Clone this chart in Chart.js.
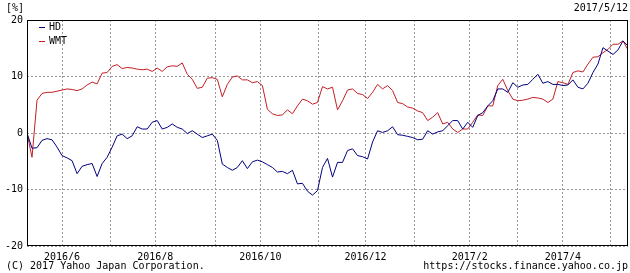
<!DOCTYPE html>
<html>
<head>
<meta charset="utf-8">
<script src="https://cdn.jsdelivr.net/npm/chart.js@4"></script>
<style>
  html, body { margin: 0; padding: 0; background: #fff; }
  #wrap { position: relative; width: 630px; height: 273px; font-family: "DejaVu Sans Mono", monospace; font-size: 10px; color: #000; }
  #wrap canvas { position: absolute; left: 0; top: 0; }
  .txt { position: absolute; white-space: pre; line-height: 10px; }
  .key { position: absolute; width: 6px; height: 1px; }
</style>
</head>
<body>
<div id="wrap">
  <canvas id="chartCompare" width="630" height="273"></canvas>
  <div class="txt" style="left:6px; top:3px;">[%]</div>
  <div class="txt" style="right:2px; top:3px;">2017/5/12</div>
  <div class="key" style="left:39px; top:27px; background:#000080;"></div>
  <div class="txt" style="left:49px; top:22px;">HD</div>
  <div class="key" style="left:39px; top:41px; background:#c41e24;"></div>
  <div class="txt" style="left:49px; top:36px;">WMT</div>
  <div class="txt" style="left:6px; top:261px;">(C) 2017 Yahoo Japan Corporation.</div>
  <div class="txt" style="right:2px; top:261px;">https://stocks.finance.yahoo.co.jp</div>
</div>
<script>
// relative change since 2016/5/12, in %
const hd = [
    0, -2.7, -2.6, -1.3, -1.0, -1.2, -2.5, -4.0, -4.4, -4.9,
    -7.2, -5.9, -5.6, -5.4, -7.7, -5.4, -4.3, -2.5, -0.5, -0.2,
    -1.0, -0.5, 1.1, 0.7, 0.7, 1.9, 2.2, 0.7, 1.0, 1.6,
    1.0, 0.7, -0.1, 0.4, -0.2, -0.8, -0.5, -0.2, -1.3, -5.5,
    -6.1, -6.6, -6.1, -4.9, -6.3, -5.1, -4.8, -5.1, -5.6, -6.1,
    -6.9, -6.8, -7.2, -6.6, -9.0, -8.9, -10.3, -11.0, -10.2, -6.1,
    -4.5, -7.8, -5.2, -5.2, -3.1, -2.8, -4.0, -4.2, -4.6, -1.6,
    0.4, 0.1, 0.4, 1.1, -0.3, -0.4, -0.6, -0.8, -1.2, -1.1,
    0.4, -0.2, 0.2, 0.4, 1.3, 2.2, 2.2, 0.7, 1.9, 1.0,
    3.1, 3.6, 4.8, 5.7, 7.8, 7.8, 7.2, 8.9, 8.1, 8.5,
    8.6, 9.5, 10.4, 8.8, 9.1, 8.6, 8.6, 8.4, 8.5, 9.4,
    8.1, 7.8, 8.8, 10.7, 12.2, 15.1, 14.5, 13.9, 14.7, 16.3,
    15.4
];
const wmt = [
    0, -4.3, 5.8, 7.0, 7.2, 7.2, 7.4, 7.6, 7.8, 7.7,
    7.5, 7.8, 8.5, 9.0, 8.7, 10.6, 10.7, 11.8, 12.1, 11.4,
    11.6, 11.5, 11.3, 11.2, 11.3, 10.9, 11.5, 10.9, 11.7, 11.9,
    11.8, 12.4, 10.4, 9.5, 7.9, 8.1, 9.7, 9.8, 9.5, 6.4,
    8.6, 9.9, 10.1, 9.4, 9.4, 8.9, 9.1, 8.4, 4.2, 3.4,
    3.1, 3.2, 4.1, 3.4, 4.8, 6.0, 5.7, 5.1, 5.4, 8.2,
    7.8, 8.1, 4.1, 5.7, 7.6, 7.8, 7.0, 6.8, 6.1, 7.2,
    8.6, 7.8, 8.4, 7.5, 5.4, 5.2, 4.6, 4.4, 3.9, 3.6,
    2.2, 2.8, 3.6, 1.6, 1.9, 0.7, 0.1, 0.7, 0.7, 1.9,
    3.2, 3.1, 4.8, 4.8, 8.4, 9.5, 7.5, 6.0, 5.7, 5.8,
    6.0, 6.3, 6.2, 6.0, 5.4, 6.0, 9.1, 8.9, 8.6, 10.7,
    11.0, 10.8, 12.2, 13.4, 13.5, 14.2, 14.8, 15.7, 15.7, 16.3,
    14.7
];
// month starts, as sample index on the x axis
const monthPos = [7, 16.6, 25.6, 37.6, 46.6, 58.2, 67.6, 77.4, 88.4, 98, 107, 116.6];
const monthLabels = ['2016/6', '', '2016/8', '', '2016/10', '', '2016/12', '', '2017/2', '', '2017/4', ''];
const yTicks = [-20, -10, 0, 10, 20];

const tickFont = { family: 'DejaVu Sans Mono', size: 10 };

// black box round the plot area
const frame = {
    id: 'frame',
    afterDraw(chart) {
        const a = chart.chartArea;
        const ctx = chart.ctx;
        ctx.save();
        ctx.strokeStyle = '#000';
        ctx.lineWidth = 1;
        ctx.strokeRect(Math.round(a.left) + 0.5, Math.round(a.top) + 0.5,
            Math.round(a.right - a.left) - 1, Math.round(a.bottom - a.top) - 1);
        ctx.restore();
    }
};

new Chart('chartCompare', {
    type: 'line',
    data: {
        labels: hd.map((v, i) => i),
        datasets: [{
            label: 'HD',
            data: hd,
            borderColor: '#000080',
            borderWidth: 1,
            pointRadius: 0,
            tension: 0
        }, {
            label: 'WMT',
            data: wmt,
            borderColor: '#c41e24',
            borderWidth: 1,
            pointRadius: 0,
            tension: 0
        }]
    },
    options: {
        responsive: false,
        animation: false,
        layout: {
            padding: { left: 0, right: 2, top: 20, bottom: 13 }
        },
        plugins: {
            legend: { display: false },
            tooltip: { enabled: false }
        },
        scales: {
            x: {
                type: 'linear',
                min: 0,
                max: 120,
                afterBuildTicks: scale => {
                    scale.ticks = monthPos.map(v => ({ value: v }));
                },
                afterFit: scale => { scale.height = 14; },
                grid: { color: '#999', drawTicks: false },
                border: { display: false, dash: [2, 2] },
                ticks: {
                    autoSkip: false,
                    maxRotation: 0,
                    padding: 5,
                    color: '#000',
                    font: tickFont,
                    callback: (value, index) => monthLabels[index]
                }
            },
            y: {
                min: -20,
                max: 20,
                afterBuildTicks: scale => {
                    scale.ticks = yTicks.map(v => ({ value: v }));
                },
                afterFit: scale => { scale.width = 27; },
                grid: { color: '#999', drawTicks: false },
                border: { display: false, dash: [2, 2] },
                ticks: {
                    padding: 4,
                    color: '#000',
                    font: tickFont
                }
            }
        }
    },
    plugins: [frame]
});
</script>
</body>
</html>
